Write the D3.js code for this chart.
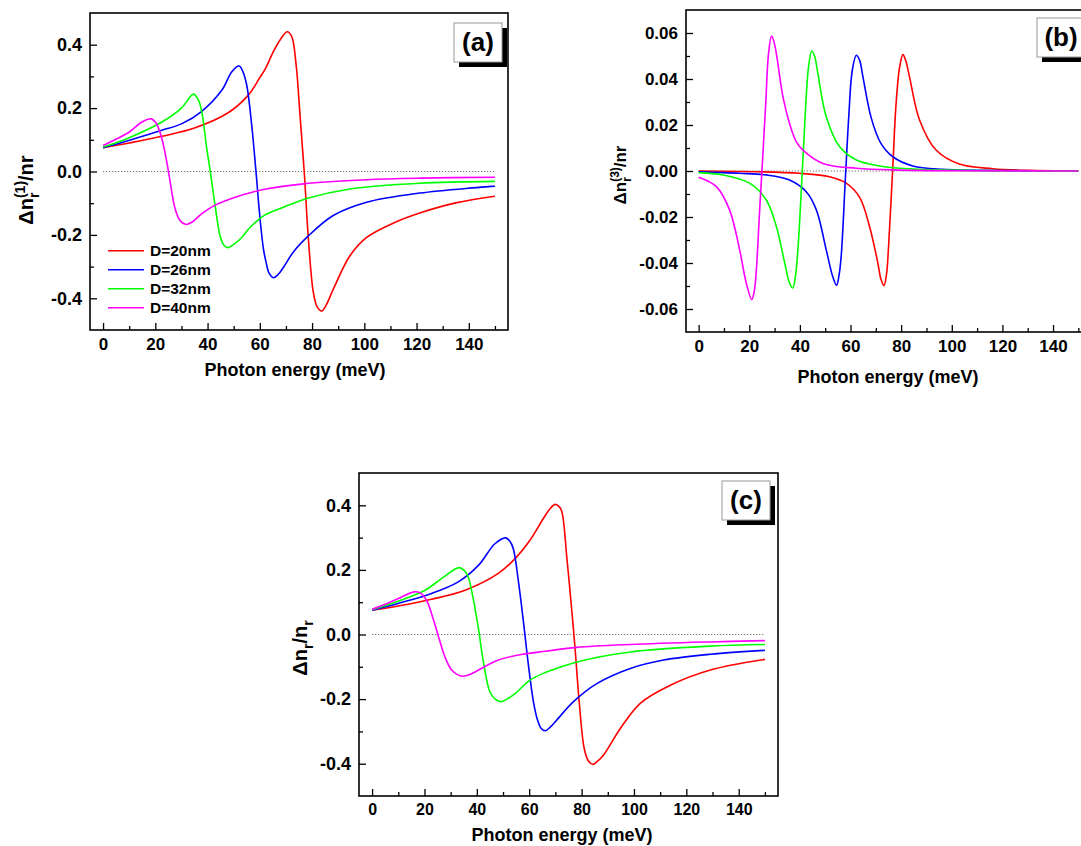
<!DOCTYPE html>
<html>
<head>
<meta charset="utf-8">
<script src="https://cdn.jsdelivr.net/npm/d3@7"></script>
<style>
    body { margin: 0; background: #fff; }
    text { font-family: "Liberation Sans", Arial, sans-serif; font-weight: bold; fill: #000; }
</style>
</head>
<body>
<svg id="vis"></svg>
<script>
const WIDTH = 1081;
const HEIGHT = 846;

// ticks
const xTicks = [0, 20, 40, 60, 80, 100, 120, 140];
const xMinor = [10, 30, 50, 70, 90, 110, 130, 150];
const acYTicks = [-0.4, -0.2, 0, 0.2, 0.4];
const acYMinor = [-0.3, -0.1, 0.1, 0.3];
const bYTicks = [-0.06, -0.04, -0.02, 0, 0.02, 0.04, 0.06];
const bYMinor = [-0.05, -0.03, -0.01, 0.01, 0.03, 0.05];

const legendLabels = ["D=20nm", "D=26nm", "D=32nm", "D=40nm"];
const colors = ["#ff0000", "#0000ff", "#00ff00", "#ff00ff"];

// (a) linear change, [energy meV, value]
const a20 = [[0,0.075],[10,0.090],[22.5,0.111],[35,0.137],[48,0.186],[55.6,0.241],[60,0.296],[62,0.322],[65.2,0.378],[68,0.418],[70.5,0.441],[72.2,0.426],[73.9,0.336],[75.4,0.177],[77,0],[78.6,-0.213],[80.5,-0.382],[82,-0.428],[83.7,-0.440],[85.5,-0.420],[88.1,-0.372],[94.5,-0.266],[100.9,-0.208],[111,-0.163],[121.2,-0.131],[135,-0.099],[150,-0.078]];
const a26 = [[0,0.075],[9.8,0.098],[22.5,0.130],[30.2,0.151],[37.8,0.190],[45.5,0.257],[49.3,0.315],[52.1,0.333],[53.5,0.315],[55,0.272],[56.9,0.146],[58.5,0.003],[60.1,-0.150],[61.4,-0.245],[62.5,-0.290],[63.5,-0.320],[65.2,-0.335],[67,-0.325],[69,-0.303],[73,-0.252],[78.6,-0.203],[88.1,-0.139],[100.9,-0.097],[121.2,-0.068],[150,-0.046]];
const a32 = [[0,0.077],[9.8,0.106],[22.5,0.156],[30,0.200],[34.6,0.244],[36.5,0.225],[37.8,0.188],[39.7,0.072],[41,0.003],[42.9,-0.108],[44.8,-0.203],[46.2,-0.232],[47.8,-0.240],[50,-0.230],[53.1,-0.208],[56.3,-0.176],[62,-0.137],[69,-0.113],[78,-0.085],[94.5,-0.055],[121.2,-0.037],[150,-0.031]];
const a40 = [[0,0.082],[4.7,0.101],[9.8,0.123],[14.9,0.156],[18.5,0.166],[20.5,0.150],[22.5,0.104],[24.4,0.030],[25.3,-0.013],[27.6,-0.118],[29.5,-0.155],[31.7,-0.167],[34,-0.160],[37.8,-0.133],[42.9,-0.106],[50.6,-0.081],[56.3,-0.067],[61.4,-0.057],[76.7,-0.039],[100.9,-0.026],[121.2,-0.021],[150,-0.018]];

// (b) third order change
const b20 = [[0,0],[22.8,-0.0003],[39.9,-0.0010],[51.7,-0.0025],[58.3,-0.0053],[63.6,-0.0115],[67.5,-0.0241],[70.8,-0.0400],[72,-0.0470],[73.2,-0.0499],[74.2,-0.0450],[75.1,-0.0314],[76.7,0.0019],[78,0.0294],[79.4,0.0452],[80.7,0.0506],[81.8,0.0480],[83.3,0.0409],[87.3,0.0221],[93.8,0.0091],[103,0.0030],[116.2,0.0010],[130,0.0003],[150,0.0001]];
const b26 = [[0,-0.0004],[16.2,-0.0010],[26.7,-0.0017],[35.9,-0.0039],[42.5,-0.0090],[46.5,-0.0169],[50.4,-0.0343],[53,-0.0460],[54.5,-0.0497],[55.5,-0.0450],[56.3,-0.0372],[58,-0.0025],[59.3,0.0236],[60.7,0.0438],[62.3,0.0503],[63.6,0.0481],[64.9,0.0409],[68.2,0.0230],[72,0.0120],[76.7,0.0062],[84.6,0.0022],[96.4,0.0007],[120,0.0002],[150,0]];
const b32 = [[0,-0.0007],[9.6,-0.0017],[20.1,-0.0053],[26.7,-0.0126],[30.7,-0.0241],[34,-0.0400],[36,-0.0490],[37.2,-0.0509],[38.2,-0.0460],[39.2,-0.0343],[40.9,-0.0010],[42.2,0.0265],[43.4,0.0452],[44.7,0.0522],[45.8,0.0500],[47.1,0.0424],[50.4,0.0236],[55.7,0.0105],[62.3,0.0048],[71.5,0.0022],[85,0.0008],[110,0.0002],[150,0]];
const b40 = [[0,-0.0027],[7,-0.0068],[12.2,-0.0169],[16.2,-0.0343],[18.8,-0.0487],[21,-0.0559],[22,-0.0520],[22.8,-0.0429],[24.1,-0.0169],[25.1,0.0019],[26.5,0.0294],[27.6,0.0510],[28.8,0.0587],[29.8,0.0560],[30.9,0.0496],[33.3,0.0322],[35.9,0.0207],[38.6,0.0127],[41.2,0.0091],[49.1,0.0033],[62.3,0.0012],[80,0.0004],[110,0.0001],[150,0]];

// (c) total change
const c20 = [[0,0.075],[9.9,0.088],[22.7,0.109],[35.5,0.137],[48.2,0.189],[54.6,0.235],[60.3,0.292],[65.4,0.359],[68,0.390],[69.9,0.403],[71.5,0.395],[72.5,0.379],[74.4,0.235],[76.3,0.070],[77.5,-0.043],[79.2,-0.219],[81,-0.353],[82.5,-0.390],[84.3,-0.402],[86,-0.393],[88.4,-0.373],[94.8,-0.291],[102.4,-0.213],[113.9,-0.157],[129.2,-0.110],[150,-0.077]];
const c26 = [[0,0.075],[9.9,0.096],[22.7,0.127],[32.9,0.163],[40.6,0.214],[46.9,0.281],[51,0.299],[52.5,0.290],[53.9,0.266],[55.9,0.163],[57.8,0.039],[59.7,-0.095],[61.6,-0.208],[63,-0.260],[64.5,-0.290],[66.1,-0.298],[68,-0.287],[70.5,-0.265],[76.9,-0.208],[85.8,-0.152],[98.6,-0.105],[111.3,-0.079],[129.2,-0.061],[150,-0.049]];
const c32 = [[0,0.077],[9.9,0.103],[20.2,0.137],[26.5,0.173],[33.2,0.207],[35.2,0.198],[36.7,0.178],[38.6,0.111],[40.6,0.019],[42.5,-0.085],[45,-0.178],[47,-0.200],[49.2,-0.208],[51.5,-0.200],[54.6,-0.183],[60.3,-0.141],[66.1,-0.118],[78.2,-0.085],[98.6,-0.054],[129.2,-0.036],[150,-0.031]];
const c40 = [[0,0.078],[4.8,0.093],[9.9,0.111],[16.1,0.132],[18.5,0.128],[20.8,0.106],[23.3,0.049],[25.2,-0.002],[27.8,-0.069],[30.4,-0.110],[34.2,-0.129],[36.5,-0.126],[39.3,-0.116],[48.2,-0.079],[58.4,-0.060],[66.1,-0.052],[78.2,-0.040],[98.6,-0.031],[129.2,-0.023],[150,-0.019]];

const svg = d3.select("#vis")
    .attr("width", WIDTH)
    .attr("height", HEIGHT);

function drawPanel(p) {
    const w = p.right - p.left;
    const h = p.bottom - p.top;
    const g = svg.append("g").attr("transform", `translate(${p.left},${p.top})`);

    const escalaX = d3.scaleLinear().domain([-5, 155]).range([0, w]);
    const escalaY = d3.scaleLinear().domain(p.yDomain).range([h, 0]);

    // dotted zero line
    g.append("line")
        .attr("x1", escalaX(0)).attr("x2", escalaX(150))
        .attr("y1", escalaY(0)).attr("y2", escalaY(0))
        .attr("stroke", "#666")
        .attr("stroke-width", 1)
        .attr("stroke-dasharray", "1.2,1.8");

    const linea = d3.line()
        .x(d => escalaX(d[0]))
        .y(d => escalaY(d[1]))
        .curve(d3.curveCatmullRom.alpha(0.5));

    g.selectAll(".curva")
        .data(p.series)
        .join("path")
        .attr("class", "curva")
        .attr("d", linea)
        .attr("fill", "none")
        .attr("stroke", (d, i) => colors[i])
        .attr("stroke-width", 1.6);

    // axes, ticks pointing inward
    const ejeX = g.append("g")
        .attr("transform", `translate(0,${h})`)
        .call(d3.axisBottom(escalaX).tickValues(xTicks).tickSize(-7).tickPadding(8).tickFormat(d => d));
    const ejeXmin = g.append("g")
        .attr("transform", `translate(0,${h})`)
        .call(d3.axisBottom(escalaX).tickValues(xMinor).tickSize(-4).tickFormat(""));
    const ejeY = g.append("g")
        .call(d3.axisLeft(escalaY).tickValues(p.yTicks).tickSize(-7).tickPadding(8).tickFormat(d => d.toFixed(p.digits)));
    const ejeYmin = g.append("g")
        .call(d3.axisLeft(escalaY).tickValues(p.yMinor).tickSize(-4).tickFormat(""));

    [ejeX, ejeXmin, ejeY, ejeYmin].forEach(e => {
        e.select(".domain").remove();
        e.selectAll("line").attr("stroke", "#000").attr("stroke-width", 1.3);
    });
    ejeX.attr("font-size", p.xTickSize);
    ejeY.attr("font-size", p.yTickSize);

    // frame
    g.append("rect")
        .attr("width", w)
        .attr("height", h)
        .attr("fill", "none")
        .attr("stroke", "#000")
        .attr("stroke-width", 1.6);

    // axis titles
    svg.append("text")
        .attr("x", p.xTitle[0])
        .attr("y", p.xTitle[1])
        .attr("text-anchor", "middle")
        .attr("font-size", 18)
        .text("Photon energy (meV)");

    const yt = svg.append("text")
        .attr("transform", `translate(${p.yTitle[0]},${p.yTitle[1]}) rotate(-90)`)
        .attr("text-anchor", "middle")
        .attr("font-size", p.yTitleSize);
    const fs = p.yTitleSize;
    const sub = fs * 0.7;
    yt.append("tspan").text("\u0394n");
    yt.append("tspan").attr("font-size", sub).attr("dy", fs * 0.3).text("r");
    if (p.order) {
        yt.append("tspan").attr("font-size", sub).attr("dx", -sub * 0.39).attr("dy", -fs * 0.72).text(p.order);
        yt.append("tspan").attr("dy", fs * 0.42).text("/nr");
    } else {
        yt.append("tspan").attr("dy", -fs * 0.3).text("/n");
        yt.append("tspan").attr("font-size", sub).attr("dy", fs * 0.3).text("r");
    }

    // panel label box with shadow
    const bx = p.box[0], by = p.box[1];
    svg.append("rect").attr("x", bx + 5).attr("y", by + 5).attr("width", 48).attr("height", 39).attr("fill", "#000");
    svg.append("rect").attr("x", bx).attr("y", by).attr("width", 48).attr("height", 39)
        .attr("fill", "#fff").attr("stroke", "#999").attr("stroke-width", 1);
    svg.append("text")
        .attr("x", bx + 24)
        .attr("y", by + 28)
        .attr("text-anchor", "middle")
        .attr("font-size", 26)
        .text(p.label);

    return { escalaX, escalaY };
}

drawPanel({
    left: 90, top: 13, right: 508, bottom: 330,
    yDomain: [-0.5, 0.5], yTicks: acYTicks, yMinor: acYMinor, digits: 1,
    xTickSize: 17, yTickSize: 18,
    series: [a20, a26, a32, a40],
    xTitle: [295, 376], yTitle: [33, 190], yTitleSize: 20, order: "(1)",
    box: [454, 23], label: "(a)"
});

drawPanel({
    left: 686, top: 10, right: 1091, bottom: 332,
    yDomain: [-0.07, 0.07], yTicks: bYTicks, yMinor: bYMinor, digits: 2,
    xTickSize: 17, yTickSize: 17,
    series: [b20, b26, b32, b40],
    xTitle: [888, 383], yTitle: [626, 175], yTitleSize: 17, order: "(3)",
    box: [1037, 18], label: "(b)"
});

drawPanel({
    left: 359, top: 473, right: 778, bottom: 796,
    yDomain: [-0.5, 0.5], yTicks: acYTicks, yMinor: acYMinor, digits: 1,
    xTickSize: 16, yTickSize: 18,
    series: [c20, c26, c32, c40],
    xTitle: [562, 841], yTitle: [307, 648], yTitleSize: 20, order: null,
    box: [722, 481], label: "(c)"
});

// legend of panel (a)
const legend = svg.append("g");
legendLabels.forEach((lab, i) => {
    const yy = 250.7 + i * 19;
    legend.append("line")
        .attr("x1", 108).attr("x2", 144)
        .attr("y1", yy).attr("y2", yy)
        .attr("stroke", colors[i])
        .attr("stroke-width", 1.6);
    legend.append("text")
        .attr("x", 150)
        .attr("y", yy + 5.5)
        .attr("font-size", 15.5)
        .text(lab);
});
</script>
</body>
</html>
